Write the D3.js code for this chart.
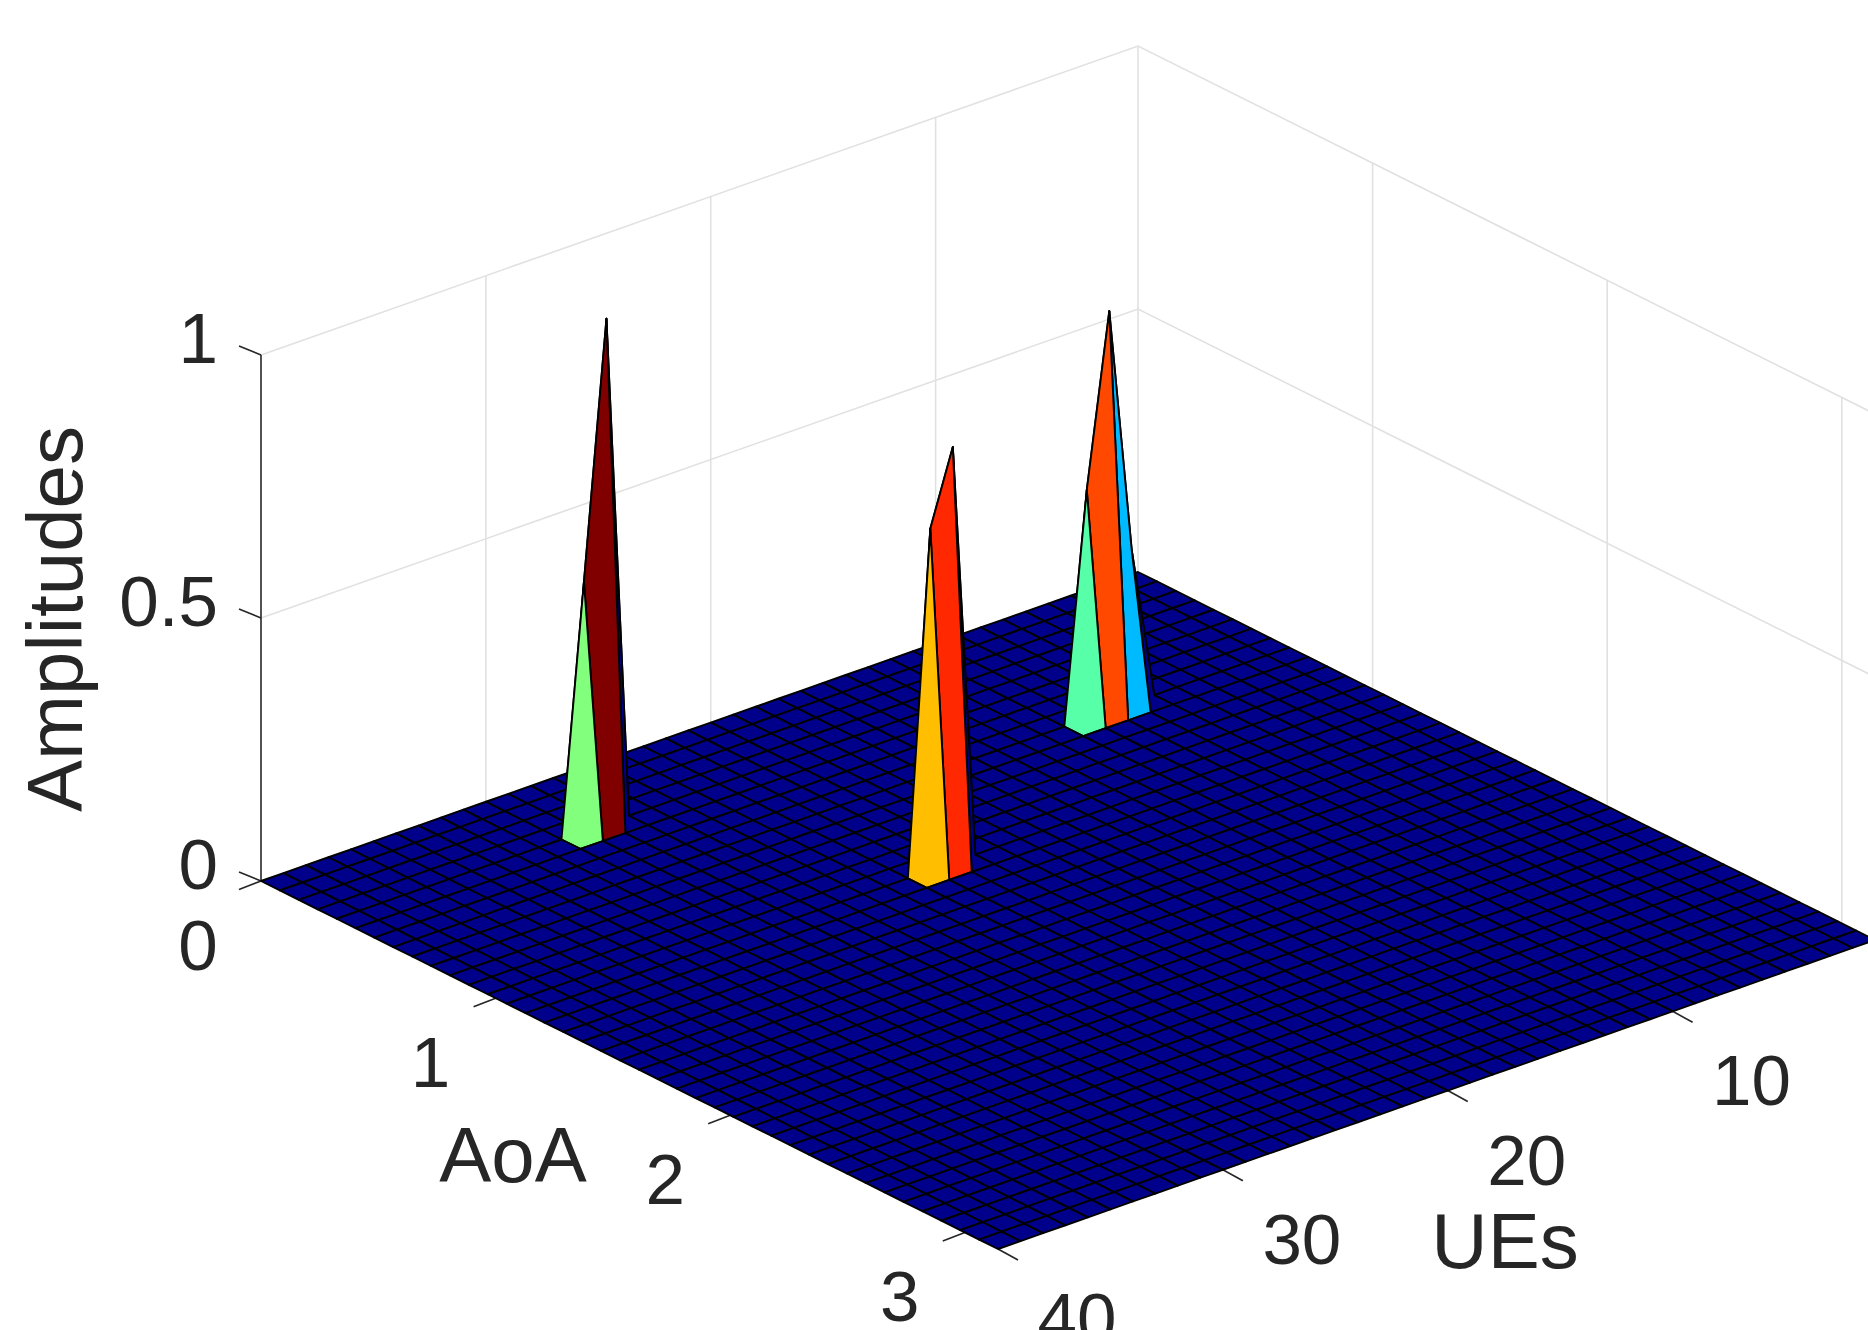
<!DOCTYPE html>
<html>
<head>
<meta charset="utf-8">
<script src="https://cdn.jsdelivr.net/npm/d3@7"></script>
<style>
html,body{margin:0;padding:0;background:#fff;overflow:hidden}
svg{display:block}
text{font-family:"Liberation Sans",Arial,sans-serif;fill:#262626}
</style>
</head>
<body>
<svg id="c" width="1868" height="1330"></svg>
<script>
// ---- data ----
const aoaSteps = 39;                     // cells along AoA (0..pi)
const ueValues = d3.range(1, 41);        // UE index 1..40
const peakAoaIdx = [4, 4, 14, 14, 8, 8, 8];
const peakUE     = [29, 28, 22, 21, 10, 9, 8];
const peakAmp    = [0.475, 0.96, 0.65, 0.79, 0.435, 0.76, 0.29];
const colorMax = 0.945;
const aoaTicks = [0, 1, 2, 3];
const ueTicks  = [10, 20, 30, 40];
const zTicks   = [0, 0.5, 1];
const zTickLabels = ["0", "0.5", "1"];
const gridColor = "#e1e1e1";
const axisColor = "#262626";

// ---- build surface ----
const aoaMax = Math.PI;
const aoaValues = d3.range(aoaSteps + 1).map(i => i * aoaMax / aoaSteps);
const Z = aoaValues.map(() => ueValues.map(() => 0));
peakAoaIdx.forEach((a, k) => { Z[a][peakUE[k] - 1] = peakAmp[k]; });

// ---- projection through linear scales ----
const originX = 261, originY = 881;
const aoaToX = d3.scaleLinear().domain([0, aoaMax]).range([0, 737]);
const aoaToY = d3.scaleLinear().domain([0, aoaMax]).range([0, 368]);
const ueToX  = d3.scaleLinear().domain([40, 1]).range([0, 877]);
const ueToY  = d3.scaleLinear().domain([40, 1]).range([0, -309]);
const zToY   = d3.scaleLinear().domain([0, 1]).range([0, -526]);
const px = (a, u) => originX + aoaToX(a) + ueToX(u);
const py = (a, u, z) => originY + aoaToY(a) + ueToY(u) + zToY(z);

// jet colormap
const jet = d3.scaleLinear()
  .domain([0, 0.125, 0.375, 0.625, 0.875, 1].map(t => t * colorMax))
  .range(["#00008b", "#0000ff", "#00ffff", "#ffff00", "#ff0000", "#800000"])
  .interpolate(d3.interpolateRgb)
  .clamp(true);

const svg = d3.select("#c");
const line = d3.line();

// ---- walls (grid) ----
const wall = svg.append("g").attr("fill", "none").attr("stroke", gridColor).attr("stroke-width", 1.6);
const aoa0 = 0, ue1 = 1, ue40 = 40;
zTicks.forEach(z => {
  wall.append("path").attr("d", line([[px(aoa0, ue40), py(aoa0, ue40, z)], [px(aoa0, ue1), py(aoa0, ue1, z)], [px(aoaMax, ue1), py(aoaMax, ue1, z)]]));
});
[10, 20, 30, 1].forEach(u => {
  wall.append("path").attr("d", line([[px(aoa0, u), py(aoa0, u, 0)], [px(aoa0, u), py(aoa0, u, 1)]]));
});
[1, 2, 3, aoaMax].forEach(a => {
  wall.append("path").attr("d", line([[px(a, ue1), py(a, ue1, 0)], [px(a, ue1), py(a, ue1, 1)]]));
});

// ---- axis rulers and ticks ----
const ax = svg.append("g").attr("fill", "none").attr("stroke", axisColor).attr("stroke-width", 1.6);
ax.append("path").attr("d", line([[px(0, 40), py(0, 40, 0)], [px(0, 40), py(0, 40, 1)]]));
zTicks.forEach(z => {
  ax.append("path").attr("d", line([[px(0, 40), py(0, 40, z)], [px(0, 40) - 22, py(0, 40, z) - 9]]));
});
aoaTicks.forEach(a => {
  ax.append("path").attr("d", line([[px(a, 40), py(a, 40, 0)], [px(a, 40) - 22, py(a, 40, 0) + 8.5]]));
});
ueTicks.forEach(u => {
  ax.append("path").attr("d", line([[px(aoaMax, u), py(aoaMax, u, 0)], [px(aoaMax, u) + 20, py(aoaMax, u, 0) + 11]]));
});

// ---- surface ----
const faces = [];
for (let i = 0; i < aoaSteps; i++) {
  for (let j = 0; j < ueValues.length - 1; j++) {
    const corners = [[i, j], [i + 1, j], [i + 1, j + 1], [i, j + 1]];
    faces.push({
      pts: corners.map(([p, q]) => [px(aoaValues[p], ueValues[q]), py(aoaValues[p], ueValues[q], Z[p][q])]),
      value: Z[i][j]
    });
  }
}
svg.append("g").selectAll("path").data(faces).join("path")
  .attr("d", d => line(d.pts) + "Z")
  .attr("fill", d => jet(d.value))
  .attr("stroke", "#000")
  .attr("stroke-width", 1.9)
  .attr("stroke-linejoin", "round");

// ---- tick labels ----
const tickSize = 71, labelSize = 78;
const t = svg.append("g");
zTicks.forEach((z, k) => {
  t.append("text").attr("x", px(0, 40) - 43).attr("y", py(0, 40, z) + 8)
    .attr("text-anchor", "end").attr("font-size", tickSize).text(zTickLabels[k]);
});
aoaTicks.forEach(a => {
  t.append("text").attr("x", px(a, 40) - (a === 0 ? 63 : 65)).attr("y", py(a, 40, 0) + 88.5)
    .attr("text-anchor", "middle").attr("font-size", tickSize).text(a);
});
ueTicks.forEach(u => {
  t.append("text").attr("x", px(aoaMax, u) + 79).attr("y", py(aoaMax, u, 0) + 94)
    .attr("text-anchor", "middle").attr("font-size", tickSize).text(u);
});
t.append("text").attr("x", 513).attr("y", 1182).attr("text-anchor", "middle").attr("font-size", labelSize).text("AoA");
t.append("text").attr("x", 1505).attr("y", 1268).attr("text-anchor", "middle").attr("font-size", labelSize).text("UEs");
t.append("text").attr("transform", "translate(82,619) rotate(-90)").attr("text-anchor", "middle").attr("font-size", labelSize).text("Amplitudes");
</script>
</body>
</html>
